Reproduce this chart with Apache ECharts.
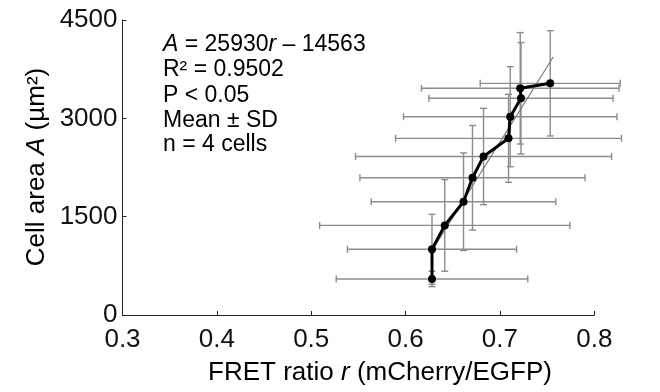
<!DOCTYPE html>
<html>
<head>
<meta charset="utf-8">
<script src="https://cdn.jsdelivr.net/npm/echarts@6/dist/echarts.min.js"></script>
<style>
  html, body { margin: 0; padding: 0; background: #fff; }
  #chart { width: 660px; height: 392px; }
</style>
</head>
<body>
<div id="chart"></div>
<script>
// FRET ratio (mean) per bin
const fretRatio = [0.628, 0.628, 0.6415, 0.6614, 0.6709, 0.6826, 0.7091, 0.7109, 0.7223, 0.7215, 0.7533];
// Cell area (mean, µm²) per bin
const cellArea = [549, 1002, 1367, 1728, 2093, 2418, 2695, 3025, 3306, 3458, 3534];
// Standard deviations
const fretSD = [0.1015, 0.0896, 0.1326, 0.0978, 0.1193, 0.1357, 0.1197, 0.1131, 0.0976, 0.1047, 0.0742];
const areaSD = [117, 534, 699, 744, 798, 735, 671, 763, 850, 850, 803];
// Linear fit drawn between these two ratios / areas
const fitR = [0.6261, 0.7565];
const fitA = [941, 3935];
// Axis ticks
const xTicks = [0.3, 0.4, 0.5, 0.6, 0.7, 0.8];
const yTicks = [0, 1500, 3000, 4500];

const FONT = "'Liberation Sans', Arial, sans-serif";

const points = fretRatio.map((r, i) => [r, cellArea[i]]);
const errData = fretRatio.map((r, i) => [r, cellArea[i], fretSD[i], areaSD[i]]);
const fitData = fitR.map((r, i) => [r, fitA[i]]);

function renderErr(params, api) {
  const x = api.value(0), y = api.value(1), sx = api.value(2), sy = api.value(3);
  const l = api.coord([x - sx, y]), r = api.coord([x + sx, y]);
  const t = api.coord([x, y + sy]), b = api.coord([x, y - sy]);
  const cap = 3.5;
  const style = { stroke: '#8c8c8c', lineWidth: 1.4 };
  const line = (x1, y1, x2, y2) => ({ type: 'line', shape: { x1, y1, x2, y2 }, style });
  return {
    type: 'group',
    children: [
      line(l[0], l[1], r[0], r[1]),
      line(l[0], l[1] - cap, l[0], l[1] + cap),
      line(r[0], r[1] - cap, r[0], r[1] + cap),
      line(t[0], t[1], b[0], b[1]),
      line(t[0] - cap, t[1], t[0] + cap, t[1]),
      line(b[0] - cap, b[1], b[0] + cap, b[1])
    ]
  };
}

const chart = echarts.init(document.getElementById('chart'), null, { renderer: 'canvas' });
chart.setOption({
  animation: false,
  backgroundColor: '#fff',
  textStyle: { fontFamily: FONT },
  grid: { left: 122.5, right: 65.7, top: 20, bottom: 77 },
  xAxis: {
    type: 'value',
    min: xTicks[0], max: xTicks[xTicks.length - 1], interval: 0.1,
    axisLine: { onZero: false, lineStyle: { color: '#222', width: 1 } },
    axisTick: { inside: true, length: 4, lineStyle: { color: '#222' } },
    axisLabel: { color: '#111', fontSize: 26, fontFamily: FONT, margin: 12,
      formatter: v => v.toFixed(1) },
    splitLine: { show: false }
  },
  yAxis: {
    type: 'value',
    min: yTicks[0], max: yTicks[yTicks.length - 1], interval: 1500,
    axisLine: { show: true, lineStyle: { color: '#222', width: 1 } },
    axisTick: { show: true, inside: true, length: 4, lineStyle: { color: '#222' } },
    axisLabel: { color: '#111', fontSize: 26, fontFamily: FONT, margin: 5,
      formatter: v => String(Math.round(v)) },
    splitLine: { show: false }
  },
  series: [
    {
      type: 'custom',
      renderItem: renderErr,
      data: errData,
      encode: { x: 0, y: 1 },
      z: 1,
      silent: true
    },
    {
      type: 'line',
      data: fitData,
      symbol: 'none',
      lineStyle: { color: '#7a7a7a', width: 1.2 },
      z: 2,
      silent: true
    },
    {
      type: 'line',
      data: points,
      symbol: 'circle',
      symbolSize: 8,
      itemStyle: { color: '#000' },
      lineStyle: { color: '#000', width: 3 },
      z: 3,
      silent: true
    }
  ],
  graphic: [
    {
      type: 'text', left: 163, top: 33,
      style: {
        text: '{i|A}{n| = 25930}{i|r }{n|– 14563}',
        rich: {
          i: { fontFamily: FONT, fontSize: 23, fontStyle: 'italic', fill: '#000' },
          n: { fontFamily: FONT, fontSize: 23, fill: '#000' }
        }
      }
    },
    { type: 'text', left: 163, top: 58, style: { text: 'R² = 0.9502', font: '23px ' + FONT, fill: '#000' } },
    { type: 'text', left: 163, top: 84, style: { text: 'P < 0.05', font: '23px ' + FONT, fill: '#000' } },
    { type: 'text', left: 163, top: 109, style: { text: 'Mean ± SD', font: '23px ' + FONT, fill: '#000' } },
    { type: 'text', left: 163, top: 133, style: { text: 'n = 4 cells', font: '23px ' + FONT, fill: '#000' } },
    {
      type: 'text', x: 37, y: 167, rotation: Math.PI / 2,
      style: {
        text: '{n|Cell area }{i|A}{n| (µm²)}',
        align: 'center', verticalAlign: 'middle',
        rich: {
          i: { fontFamily: FONT, fontSize: 26, fontStyle: 'italic', fill: '#000' },
          n: { fontFamily: FONT, fontSize: 26, fill: '#000' }
        }
      }
    },
    {
      type: 'text', x: 380, y: 373,
      style: {
        text: '{n|FRET ratio }{i|r}{n| (mCherry/EGFP)}',
        align: 'center', verticalAlign: 'middle',
        rich: {
          i: { fontFamily: FONT, fontSize: 26, fontStyle: 'italic', fill: '#000' },
          n: { fontFamily: FONT, fontSize: 26, fill: '#000' }
        }
      }
    }
  ]
});
</script>
</body>
</html>
